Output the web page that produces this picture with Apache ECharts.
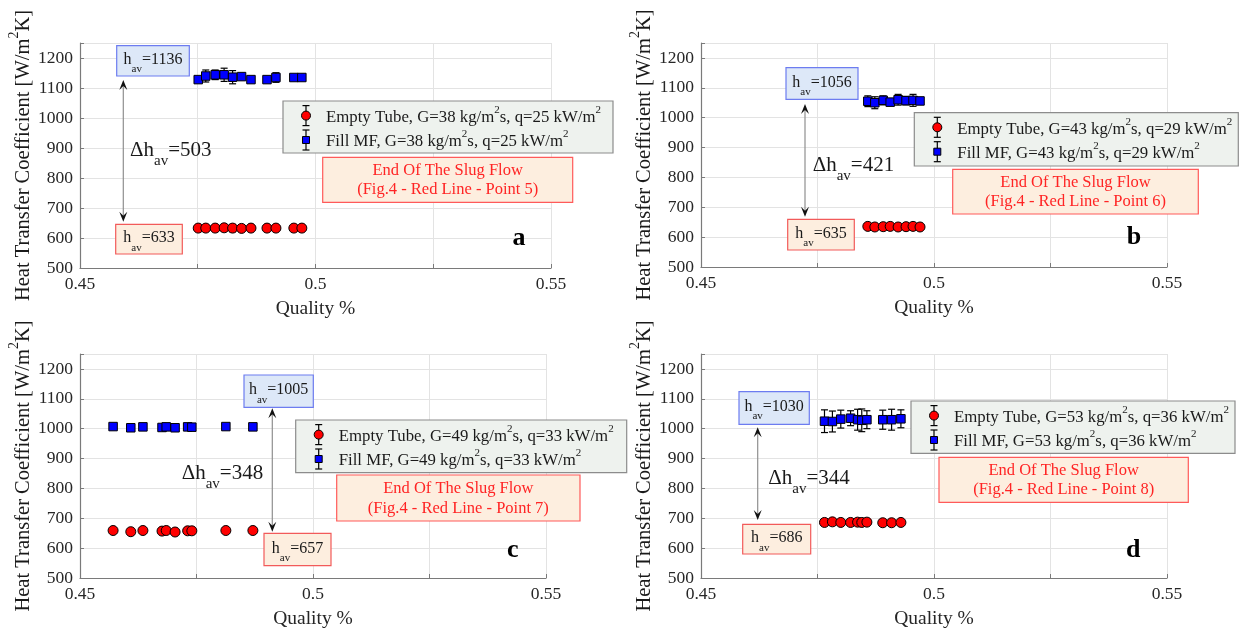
<!DOCTYPE html>
<html><head><meta charset="utf-8">
<script src="https://cdn.jsdelivr.net/npm/echarts@6/dist/echarts.min.js"></script>
<style>html,body{margin:0;padding:0;background:#fff}#c{width:1250px;height:634px}</style>
</head><body><div id="c"></div>
<script>
// ---------------- DATA ----------------
const panelLetters = ['a', 'b', 'c', 'd'];
const xTickLabels = ['0.45', '0.5', '0.55'];
const yTickLabels = [500, 600, 700, 800, 900, 1000, 1100, 1200];
const massFlux = [38, 43, 49, 53];      // G, kg/m2s
const heatFlux = [25, 29, 33, 36];      // q, kW/m2
const slugPoint = [5, 6, 7, 8];
const hAvFill = [1136, 1056, 1005, 1030];
const hAvEmpty = [633, 635, 657, 686];
const deltaHav = [503, 421, 348, 344];

// panel a
const qualityA = [0.4751, 0.4767, 0.4787, 0.4806, 0.4824, 0.4843, 0.4863, 0.4897, 0.4916, 0.4954, 0.4971];
const emptyA = [633, 633, 633, 634, 633, 632, 633, 633, 633, 633, 633];
const emptyErrA = [4, 4, 5, 10, 12, 5, 4, 4, 5, 4, 4];
const fillA = [1128, 1140, 1144, 1144, 1136, 1138, 1128, 1128, 1135, 1135, 1135];
const fillErrA = [6, 20, 16, 22, 22, 8, 5, 6, 16, 5, 5];
// panel b
const qualityB = [0.4858, 0.4873, 0.4891, 0.4906, 0.4923, 0.4940, 0.4955, 0.4970];
const emptyB = [636, 634, 635, 636, 634, 635, 636, 634];
const emptyErrB = [5, 5, 5, 6, 5, 5, 5, 5];
const fillB = [1055, 1050, 1058, 1052, 1060, 1057, 1058, 1056];
const fillErrB = [18, 20, 15, 12, 18, 14, 20, 8];
// panel c
const qualityC = [0.4571, 0.4609, 0.4635, 0.4676, 0.4685, 0.4704, 0.4731, 0.4740, 0.4813, 0.4871];
const emptyC = [659, 655, 659, 657, 659, 654, 658, 658, 659, 659];
const emptyErrC = [3, 3, 3, 3, 3, 3, 3, 3, 3, 3];
const fillC = [1007, 1003, 1006, 1004, 1006, 1003, 1006, 1005, 1007, 1006];
const fillErrC = [3, 3, 4, 3, 3, 3, 4, 3, 3, 3];
// panel d
const qualityD = [0.4765, 0.4782, 0.4800, 0.4821, 0.4836, 0.4845, 0.4856, 0.4890, 0.4909, 0.4929];
const emptyD = [686, 688, 686, 686, 687, 686, 687, 685, 685, 686];
const emptyErrD = [8, 6, 4, 5, 8, 6, 5, 4, 4, 4];
const fillD = [1025, 1024, 1032, 1035, 1030, 1028, 1030, 1030, 1030, 1033];
const fillErrD = [38, 35, 30, 25, 35, 38, 30, 32, 35, 30];

const qualities = [qualityA, qualityB, qualityC, qualityD];
const empties = [emptyA, emptyB, emptyC, emptyD];
const emptyErrs = [emptyErrA, emptyErrB, emptyErrC, emptyErrD];
const fills = [fillA, fillB, fillC, fillD];
const fillErrs = [fillErrA, fillErrB, fillErrC, fillErrD];

// ---------------- LAYOUT ----------------
const FONT = "'Liberation Serif','Times New Roman',serif";
const grids = [
  {left: 80, top: 43, width: 471, height: 225},
  {left: 701, top: 43, width: 466, height: 224},
  {left: 80, top: 354, width: 466, height: 224},
  {left: 701, top: 354, width: 466, height: 224}
];
const ann = [
  {legend: [283, 101, 330, 52], slug: [322.7, 157.3, 250, 45], hF: [116.7, 45.7, 72.6, 30.3], hE: [115.7, 224.3, 66.6, 29.7],
   delta: [130, 150], arrow: [123.3, 80, 221.7], letter: [519, 238]},
  {legend: [914.3, 112.7, 324, 53.3], slug: [952.7, 169.3, 245.6, 44.7], hF: [786, 67.7, 72, 31.6], hE: [787.7, 219.3, 66.6, 30.7],
   delta: [812.7, 165], arrow: [805, 104, 216.7], letter: [1134, 237]},
  {legend: [295.7, 420, 331, 52.7], slug: [336.7, 475, 243.3, 46], hF: [244, 375, 69.3, 32.3], hE: [264, 533.3, 67, 32.4],
   delta: [181.7, 473.3], arrow: [272.3, 408.3, 531.7], letter: [512.7, 550]},
  {legend: [911, 401, 324, 52.3], slug: [939, 457.3, 249.3, 45], hF: [739, 391.7, 70.3, 32.6], hE: [742.7, 524.3, 68, 29.7],
   delta: [768.3, 478.3], arrow: [757.7, 427.3, 520], letter: [1133.3, 550]}
];

const supPad = (fs) => Math.round(fs * 0.3);
const supRich = (fs) => ({
  t: {fontSize: fs, fontFamily: FONT, fill: '#1a1a1a', color: '#1a1a1a', verticalAlign: 'top', padding: [supPad(fs), 0, 0, 0], lineHeight: Math.round(fs * 1.2)},
  p: {fontSize: Math.round(fs * 0.68), fontFamily: FONT, fill: '#1a1a1a', color: '#1a1a1a', verticalAlign: 'top', lineHeight: Math.round(fs * 0.7)}
});

function errRender(params, api) {
  const x = api.value(0), lo = api.value(1), hi = api.value(2);
  const a = api.coord([x, lo]), b = api.coord([x, hi]);
  const w = 3.5;
  const st = {stroke: '#000', lineWidth: 1.2};
  return {type: 'group', children: [
    {type: 'line', shape: {x1: a[0], y1: a[1], x2: b[0], y2: b[1]}, style: st},
    {type: 'line', shape: {x1: a[0] - w, y1: a[1], x2: a[0] + w, y2: a[1]}, style: st},
    {type: 'line', shape: {x1: b[0] - w, y1: b[1], x2: b[0] + w, y2: b[1]}, style: st}
  ]};
}

const xAxes = [], yAxes = [], series = [], graphic = [];
grids.forEach((g, i) => {
  xAxes.push({
    gridIndex: i, type: 'value', min: 0.45, max: 0.55, interval: 0.025,
    name: 'Quality %', nameLocation: 'middle', nameGap: 31,
    nameTextStyle: {fontFamily: FONT, fontSize: 19.5, color: '#262626'},
    axisLine: {show: true, onZero: false, lineStyle: {color: '#7a7a7a', width: 1.2}},
    axisTick: {show: true, inside: true, length: 4, lineStyle: {color: '#7a7a7a'}},
    axisLabel: {fontFamily: FONT, fontSize: 17.5, color: '#262626', margin: 7,
      formatter: v => { const r = Math.round(v * 1000); const idx = [450, 500, 550].indexOf(r); return idx >= 0 ? xTickLabels[idx] : ''; }},
    splitLine: {show: true, lineStyle: {color: '#e3e3e3', width: 1}}
  });
  yAxes.push({
    gridIndex: i, type: 'value', min: 500, max: 1250, interval: 100,
    name: '{t|Heat Transfer Coefficient [W/m}{p|2}{t|K]}', nameLocation: 'middle', nameGap: 46,
    nameTextStyle: {fontFamily: FONT, fontSize: 20.5, color: '#262626', rich: supRich(20.5)},
    axisLine: {show: true, onZero: false, lineStyle: {color: '#7a7a7a', width: 1.2}},
    axisTick: {show: true, inside: true, length: 4, lineStyle: {color: '#7a7a7a'}},
    axisLabel: {fontFamily: FONT, fontSize: 17.5, color: '#262626', margin: 7,
      formatter: v => yTickLabels.indexOf(v) >= 0 ? String(v) : ''},
    splitLine: {show: true, lineStyle: {color: '#e3e3e3', width: 1}}
  });
  const q = qualities[i];
  const eData = q.map((x, k) => [x, empties[i][k] - emptyErrs[i][k], empties[i][k] + emptyErrs[i][k]]);
  const fData = q.map((x, k) => [x, fills[i][k] - fillErrs[i][k], fills[i][k] + fillErrs[i][k]]);
  series.push({type: 'custom', xAxisIndex: i, yAxisIndex: i, renderItem: errRender, data: eData, encode: {x: 0, y: [1, 2]}, z: 3, silent: true});
  series.push({type: 'custom', xAxisIndex: i, yAxisIndex: i, renderItem: errRender, data: fData, encode: {x: 0, y: [1, 2]}, z: 3, silent: true});
  series.push({type: 'scatter', xAxisIndex: i, yAxisIndex: i, symbol: 'circle', symbolSize: 10, z: 4,
    itemStyle: {color: '#ff0000', borderColor: '#000', borderWidth: 1, opacity: 1},
    data: q.map((x, k) => [x, empties[i][k]])});
  series.push({type: 'scatter', xAxisIndex: i, yAxisIndex: i, symbol: 'rect', symbolSize: 8.5, z: 4,
    itemStyle: {color: '#0000ff', borderColor: '#000', borderWidth: 1, opacity: 1},
    data: q.map((x, k) => [x, fills[i][k]])});

  // ---- annotations ----
  const A = ann[i];
  const Z = 20;
  // legend box
  const L = A.legend;
  graphic.push({type: 'rect', z: Z, shape: {x: L[0], y: L[1], width: L[2], height: L[3]}, style: {fill: '#eef2ee', stroke: '#8c8c8c', lineWidth: 1.2}});
  const ix = L[0] + 23;
  [[L[1] + 14.6, 'circle'], [L[1] + 39, 'rect']].forEach(([cy, shp]) => {
    const st = {stroke: '#000', lineWidth: 1.2};
    graphic.push({type: 'line', z: Z + 1, shape: {x1: ix, y1: cy - 10, x2: ix, y2: cy + 10}, style: st});
    graphic.push({type: 'line', z: Z + 1, shape: {x1: ix - 3.5, y1: cy - 10, x2: ix + 3.5, y2: cy - 10}, style: st});
    graphic.push({type: 'line', z: Z + 1, shape: {x1: ix - 3.5, y1: cy + 10, x2: ix + 3.5, y2: cy + 10}, style: st});
    if (shp === 'circle') graphic.push({type: 'circle', z: Z + 2, shape: {cx: ix, cy: cy, r: 4.5}, style: {fill: '#ff0000', stroke: '#000', lineWidth: 1}});
    else graphic.push({type: 'rect', z: Z + 2, shape: {x: ix - 3.5, y: cy - 3.5, width: 7, height: 7}, style: {fill: '#0000ff', stroke: '#000', lineWidth: 1}});
  });
  const LFS = 16.8;
  const lr = supRich(LFS);
  const gq = `G=${massFlux[i]} kg/m}{p|2}{t|s, q=${heatFlux[i]} kW/m}{p|2}`;
  const lOff = supPad(LFS) + LFS / 2;
  graphic.push({type: 'text', z: Z + 1, x: L[0] + 43, y: L[1] + 17 - lOff,
    style: {text: `{t|Empty Tube, ${gq}`, rich: lr, fill: '#1a1a1a', font: `${LFS}px ${FONT}`, align: 'left', verticalAlign: 'top'}});
  graphic.push({type: 'text', z: Z + 1, x: L[0] + 43, y: L[1] + 41 - lOff,
    style: {text: `{t|Fill MF, ${gq}`, rich: lr, fill: '#1a1a1a', font: `${LFS}px ${FONT}`, align: 'left', verticalAlign: 'top'}});
  // slug flow box
  const S = A.slug;
  graphic.push({type: 'rect', z: Z, shape: {x: S[0], y: S[1], width: S[2], height: S[3]}, style: {fill: '#fdeedf', stroke: '#ff5a5a', lineWidth: 1.2}});
  graphic.push({type: 'text', z: Z + 1, x: S[0] + S[2] / 2, y: S[1] + S[3] / 2 + 0.5,
    style: {text: `End Of The Slug Flow\n(Fig.4 - Red Line - Point ${slugPoint[i]})`, fill: '#ff2424',
      font: `16.5px ${FONT}`, lineHeight: 19.5, align: 'center', verticalAlign: 'middle'}});
  // h_av boxes
  const hRich = {
    h: {fontSize: 16, fontFamily: FONT, fill: '#1a1a1a', verticalAlign: 'top', lineHeight: 20},
    s: {fontSize: 11, fontFamily: FONT, fill: '#1a1a1a', verticalAlign: 'top', padding: [12, 0, 0, 0], lineHeight: 12}
  };
  [[A.hF, hAvFill[i], true], [A.hE, hAvEmpty[i], false]].forEach(([b, v, blue]) => {
    graphic.push({type: 'rect', z: Z, shape: {x: b[0], y: b[1], width: b[2], height: b[3]},
      style: {fill: blue ? '#dde8f8' : '#fdeedf', stroke: blue ? '#6d7cf0' : '#f25a5a', lineWidth: 1.2}});
    graphic.push({type: 'text', z: Z + 1, x: b[0] + b[2] / 2, y: b[1] + b[3] / 2 - 9,
      style: {text: `{h|h}{s|av}{h|=${v}}`, rich: hRich, fill: '#1a1a1a', font: `16px ${FONT}`, align: 'center', verticalAlign: 'top'}});
  });
  // delta label
  const dRich = {
    d: {fontSize: 21, fontFamily: FONT, fill: '#1a1a1a', verticalAlign: 'top', lineHeight: 24},
    s: {fontSize: 15, fontFamily: FONT, fill: '#1a1a1a', verticalAlign: 'top', padding: [14, 0, 0, 0], lineHeight: 15}
  };
  graphic.push({type: 'text', z: Z + 1, x: A.delta[0], y: A.delta[1] - 10.5,
    style: {text: `{d|Δh}{s|av}{d|=${deltaHav[i]}}`, rich: dRich, fill: '#1a1a1a', font: `21px ${FONT}`, align: 'left', verticalAlign: 'top'}});
  // arrow
  const [ax, y1, y2] = A.arrow;
  graphic.push({type: 'line', z: Z, shape: {x1: ax, y1: y1 + 5, x2: ax, y2: y2 - 5}, style: {stroke: '#8f8f8f', lineWidth: 1.2}});
  graphic.push({type: 'polygon', z: Z + 1, shape: {points: [[ax, y1], [ax - 4, y1 + 10], [ax, y1 + 6], [ax + 4, y1 + 10]]}, style: {fill: '#111'}});
  graphic.push({type: 'polygon', z: Z + 1, shape: {points: [[ax, y2], [ax - 4, y2 - 10], [ax, y2 - 6], [ax + 4, y2 - 10]]}, style: {fill: '#111'}});
  // panel letter
  graphic.push({type: 'text', z: Z + 1, x: A.letter[0], y: A.letter[1],
    style: {text: panelLetters[i], fill: '#000', font: `bold 26px ${FONT}`, align: 'center', verticalAlign: 'middle'}});
});

const chart = echarts.init(document.getElementById('c'), null, {renderer: 'canvas'});
chart.setOption({
  animation: false,
  backgroundColor: '#ffffff',
  textStyle: {fontFamily: FONT},
  grid: grids.map(g => Object.assign({containLabel: false}, g)),
  xAxis: xAxes,
  yAxis: yAxes,
  series: series,
  graphic: graphic
});
</script></body></html>
